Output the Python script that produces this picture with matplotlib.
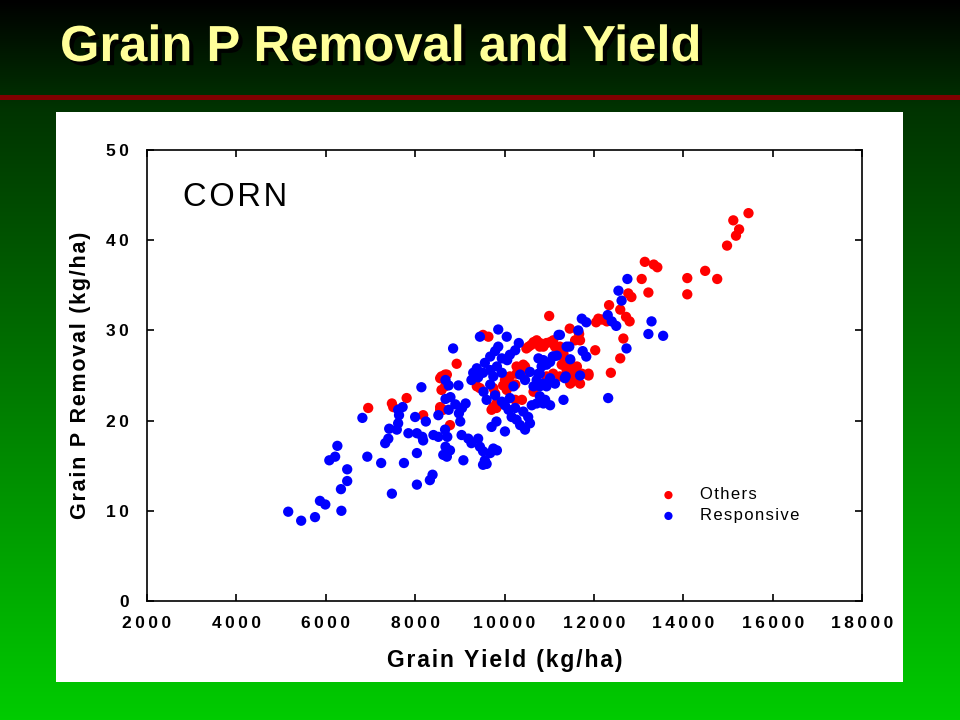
import numpy as np
import matplotlib
matplotlib.use('Agg')
import matplotlib.pyplot as plt
from matplotlib.patches import Rectangle
import matplotlib.patheffects as pe

## "Others" (red) points: grain yield (kg/ha), grain P removal (kg/ha)
others_x = [15460, 15120, 15250, 15180, 14980, 14760, 14490, 14090, 14090, 13140,
            13340, 13420, 13070, 13220, 12770, 12840, 12590, 12720, 12800, 12340,
            12180, 12290, 12660, 12590, 12380, 12030, 11670, 11690, 11460, 11000,
            11880, 11690, 11540, 11390, 11320, 11470, 11540, 11240, 11090, 10940,
            10790, 11090, 11240, 11020, 11470, 11620, 11510, 10940, 10460, 10350,
            10270, 10120, 10010, 9970, 9750, 9790, 9710, 9820, 9450, 9340,
            8930, 8670, 8590, 8670, 8590, 8560, 8780, 9520, 9640, 10720,
            10600, 10490, 10790, 11650, 11580, 10650, 10540, 10870, 11020, 11130,
            11240, 11320, 11280, 11390, 11730, 11880, 11620, 11470, 10270, 10420,
            10490, 10050, 10240, 10390, 10650, 8560, 8710, 9380, 10120, 10240,
            9750, 8630, 6950, 7480, 7510, 7810, 8180, 8560, 8590, 9820,
            10050, 12100, 12050]
others_y = [43.0, 42.2, 41.2, 40.5, 39.4, 35.7, 36.6, 35.8, 34.0, 37.6,
            37.3, 37.0, 35.7, 34.2, 34.1, 33.7, 32.3, 31.5, 31.0, 32.8,
            31.2, 31.0, 29.1, 26.9, 25.3, 27.8, 29.6, 28.9, 30.2, 31.6,
            25.2, 24.1, 25.8, 26.0, 27.1, 26.7, 25.2, 28.2, 28.9, 28.6,
            28.2, 25.2, 24.9, 24.5, 25.6, 26.0, 24.3, 24.9, 26.0, 25.6,
            25.2, 24.9, 24.5, 23.9, 23.6, 23.0, 21.2, 21.4, 23.6, 24.9,
            26.3, 25.1, 24.9, 23.8, 23.4, 21.2, 19.5, 29.5, 29.3, 28.9,
            28.4, 28.0, 28.6, 29.9, 28.9, 28.7, 28.2, 28.2, 28.7, 28.2,
            27.8, 27.4, 26.2, 25.6, 25.2, 25.0, 24.5, 24.1, 26.0, 26.2,
            25.4, 23.4, 22.3, 22.3, 23.2, 24.7, 25.1, 23.8, 24.1, 24.0,
            21.5, 21.2, 21.4, 21.9, 21.5, 22.5, 20.6, 21.5, 21.2, 21.9,
            24.0, 31.3, 30.9]

## "Responsive" (blue) points
resp_x = [5160, 5450, 5760, 6350, 5870, 5990, 6340, 6480, 6480, 6080,
          6210, 6260, 6930, 7240, 6820, 7480, 7750, 8040, 8040, 8330,
          8390, 8140, 7330, 7400, 7420, 7590, 7620, 7640, 7620, 7720,
          7850, 8040, 8180, 8160, 8000, 8240, 8410, 8520, 8670, 8720,
          8680, 8780, 8630, 8710, 8520, 8680, 8750, 8970, 8680, 8790,
          8900, 8980, 9050, 9130, 9010, 8750, 9860, 9450, 10050, 8850,
          9860, 9790, 9680, 9560, 9380, 9300, 9410, 9260, 9520, 9680,
          9750, 9830, 9940, 10120, 10240, 10320, 10060, 9940, 9680, 9530,
          9600, 9790, 9040, 9190, 9260, 9410, 9450, 9520, 9680, 9750,
          9830, 9560, 9520, 9080, 9600, 9710, 9820, 10010, 9940, 10010,
          10090, 10160, 10270, 10350, 10460, 10570, 10530, 10420, 10240, 10120,
          10200, 10350, 10460, 10570, 10760, 10720, 10650, 10790, 10940, 11020,
          11130, 10790, 10910, 11020, 10720, 10610, 12750, 12550, 12620, 12310,
          12400, 12500, 13290, 13220, 13550, 12730, 12320, 11730, 11830, 11650,
          11750, 11830, 11450, 11470, 11240, 11080, 11170, 11020, 10940, 11370,
          11690, 11320, 10870, 10790, 10870, 10940, 11210, 11390, 11090, 10870,
          10760, 10830, 11350]
resp_y = [9.9, 8.9, 9.3, 10.0, 11.1, 10.7, 12.4, 13.3, 14.6, 15.6,
          16.0, 17.2, 16.0, 15.3, 20.3, 11.9, 15.3, 16.4, 12.9, 13.4,
          14.0, 23.7, 17.5, 18.0, 19.1, 19.0, 19.7, 20.6, 21.2, 21.5,
          18.6, 18.6, 17.8, 18.2, 20.4, 19.9, 18.4, 18.2, 19.0, 18.2,
          17.1, 16.7, 16.2, 16.0, 20.6, 24.5, 23.9, 23.9, 22.4, 22.6,
          21.8, 20.8, 21.4, 21.9, 19.9, 21.2, 30.1, 29.3, 29.3, 28.0,
          28.2, 27.7, 27.1, 26.4, 25.8, 25.3, 24.8, 24.5, 25.3, 25.6,
          24.9, 26.0, 26.9, 27.3, 27.8, 28.6, 26.7, 25.3, 24.0, 23.2,
          22.3, 22.8, 18.4, 18.0, 17.5, 18.0, 17.1, 16.6, 16.4, 16.9,
          16.7, 15.6, 15.1, 15.6, 15.2, 19.3, 19.9, 18.8, 22.1, 21.7,
          21.2, 20.4, 20.1, 19.5, 19.0, 19.7, 20.4, 21.0, 21.4, 22.5,
          23.8, 25.1, 24.5, 25.4, 25.2, 24.5, 23.8, 23.8, 24.1, 24.7,
          24.1, 22.7, 22.3, 21.7, 21.9, 21.7, 35.7, 34.4, 33.3, 31.7,
          31.0, 30.5, 31.0, 29.6, 29.4, 28.0, 22.5, 31.3, 30.9, 30.0,
          27.7, 27.1, 28.2, 26.8, 29.5, 27.1, 27.2, 26.5, 26.2, 24.9,
          25.0, 22.3, 21.9, 25.2, 24.1, 23.8, 29.5, 28.2, 27.1, 26.7,
          26.9, 26.0, 24.7]

x_ticks = [2000, 4000, 6000, 8000, 10000, 12000, 14000, 16000, 18000]
y_ticks = [0, 10, 20, 30, 40, 50]

THIN, HAIR = '\u2009', '\u200a'


def spaced(s, sp=THIN):
    # the slide font is tracked out wide; fake it with narrow spaces
    return sp.join(s)


FAM = ['Liberation Sans', 'DejaVu Sans']

W, H = 960, 720
fig = plt.figure(figsize=(9.6, 7.2), dpi=100)

## slide background: black -> green gradient
bg = fig.add_axes([0, 0, 1, 1])
rows = np.linspace(0, 1, H)
grad = np.zeros((H, 1, 3))
grad[:, 0, 1] = np.interp(rows, [0, 0.15, 1], [0.0, 0.2, 0.8])
bg.imshow(grad, aspect='auto', extent=[0, 1, 0, 1], origin='upper')
bg.set_xlim(0, 1)
bg.set_ylim(0, 1)
bg.axis('off')

# dark red rule under the title
bg.add_patch(Rectangle((0, 1 - 100 / H), 1, 5 / H, color='#800000', lw=0))
# white chart panel
bg.add_patch(Rectangle((56 / W, 1 - 682 / H), 847 / W, 570 / H,
                       facecolor='white', edgecolor='none'))

fig.text(60 / W, 1 - 61 / H, 'Grain P Removal and Yield', color='#FFFF99',
         fontsize=36.5, fontweight='bold', family='Liberation Sans', va='baseline',
         path_effects=[pe.SimplePatchShadow(offset=(3, -3), shadow_rgbFace='black', alpha=0.9),
                       pe.Normal()])

## the scatter plot
ax = fig.add_axes([147 / W, 1 - 601 / H, 715 / W, 451 / H])
ax.scatter(others_x, others_y, s=55, c='#FF0000', edgecolors='none',
           label=spaced('Others', HAIR), zorder=3)
ax.scatter(resp_x, resp_y, s=55, c='#0000FF', edgecolors='none',
           label=spaced('Responsive', HAIR), zorder=4)

ax.set_xlim(2000, 18000)
ax.set_ylim(0, 50)
ax.set_xticks(x_ticks)
ax.set_xticklabels([spaced(str(t)) for t in x_ticks])
ax.set_yticks(y_ticks)
ax.set_yticklabels([spaced(str(t)) for t in y_ticks])
ax.tick_params(direction='in', length=5, width=1.2, top=True, right=True)
ax.tick_params(axis='x', pad=11)
ax.tick_params(axis='y', pad=13)
for lab in ax.get_xticklabels() + ax.get_yticklabels():
    lab.set_fontsize(12.5)
    lab.set_fontweight('bold')
    lab.set_family(FAM)
for sp in ax.spines.values():
    sp.set_linewidth(1.2)

ax.set_xlabel(spaced('Grain Yield (kg/ha)', HAIR), fontsize=16.5, fontweight='bold',
              family=FAM, labelpad=13)
ax.set_ylabel(spaced('Grain P Removal (kg/ha)', HAIR), fontsize=15.5, fontweight='bold',
              family=FAM, labelpad=11)

ax.text(0.05, 0.93, spaced('CORN', HAIR), transform=ax.transAxes, fontsize=23.5,
        family=FAM, va='top')

ax.legend(loc='upper left', bbox_to_anchor=(0.685, 0.285), frameon=False,
          prop={'family': FAM, 'size': 12},
          handletextpad=0.9, labelspacing=0.35, markerscale=0.8)

fig.savefig('out.png', dpi=100)
